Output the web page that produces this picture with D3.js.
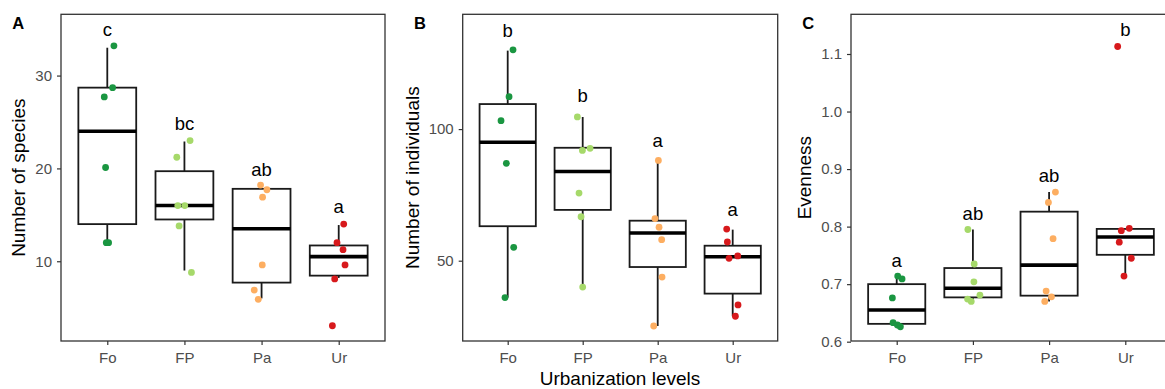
<!DOCTYPE html>
<html>
<head>
    <title>Urbanization boxplots</title>
    <script src="https://d3js.org/d3.v7.min.js"></script>
    <style>
        body { margin: 0; background: #fff; }
        svg { display: block; font-family: "Liberation Sans", Arial, sans-serif; }
    </style>
</head>
<body>
    <svg id="chart" width="1165" height="389"></svg>

    <script>
        // categories + colours
        const groups = ["Fo", "FP", "Pa", "Ur"];
        const groupColors = ["#1a9641", "#a6d96a", "#fdae61", "#d7191c"];

        // A - number of species
        const speciesPoints = [
            [33.2, 28.7, 27.7, 20.1, 12.0, 12.0],
            [23.0, 21.2, 16.0, 16.0, 13.8, 8.8],
            [18.2, 17.7, 16.9, 9.6, 6.9, 5.9],
            [14.0, 12.0, 11.25, 9.6, 8.1, 3.05]
        ];
        const speciesJitter = [
            [0.086, 0.069, -0.039, -0.022, -0.013, 0.017],
            [0.073, -0.099, -0.086, 0.004, -0.069, 0.091],
            [-0.013, 0.069, 0.013, 0.009, -0.095, -0.043],
            [0.065, -0.022, 0.056, 0.082, -0.052, -0.082]
        ];
        // [lower whisker, q1, median, q3, upper whisker]
        const speciesBoxes = [
            [12.0, 14.0, 24.0, 28.7, 33.0],
            [9.0, 14.5, 16.0, 19.7, 22.9],
            [6.0, 7.7, 13.5, 17.8, 17.8],
            [8.2, 8.45, 10.5, 11.7, 13.9]
        ];
        const speciesLetters = ["c", "bc", "ab", "a"];
        const speciesLetterY = [34.3, 24.15, 19.2, 15.24];
        const speciesTicks = [10, 20, 30];

        // B - number of individuals
        const individualsPoints = [
            [130.1, 112.3, 103.2, 87.0, 55.1, 36.0],
            [104.6, 91.9, 92.7, 75.7, 66.7, 40.0],
            [88.1, 66.0, 62.7, 58.0, 43.8, 25.2],
            [62.0, 57.1, 50.9, 51.8, 33.2, 28.9]
        ];
        const individualsJitter = [
            [0.071, 0.018, -0.089, -0.018, 0.08, -0.036],
            [-0.071, -0.004, 0.098, -0.049, -0.022, 0],
            [0.009, -0.036, 0.018, 0.053, 0.058, -0.053],
            [-0.08, -0.071, -0.049, 0.067, 0.071, 0.036]
        ];
        const individualsBoxes = [
            [36.0, 63.1, 95.0, 109.5, 129.8],
            [40.0, 69.3, 83.9, 92.9, 104.6],
            [25.2, 47.6, 60.5, 65.2, 88.1],
            [28.9, 37.5, 51.5, 55.7, 61.8]
        ];
        const individualsLetters = ["b", "b", "a", "a"];
        const individualsLetterY = [135.1, 110.2, 93.2, 67.1];
        const individualsTicks = [50, 100];

        // C - evenness
        const evennessPoints = [
            [0.714, 0.709, 0.676, 0.633, 0.629, 0.626],
            [0.795, 0.735, 0.704, 0.681, 0.674, 0.670],
            [0.860, 0.842, 0.779, 0.688, 0.678, 0.670],
            [1.113, 0.797, 0.793, 0.773, 0.745, 0.714]
        ];
        const evennessJitter = [
            [0.013, 0.07, -0.057, -0.048, 0.009, 0.048],
            [-0.066, 0.017, 0.013, 0.092, -0.07, -0.022],
            [0.083, -0.009, 0.052, -0.039, 0.031, -0.057],
            [-0.1, 0.052, -0.052, -0.079, 0.079, -0.017]
        ];
        const evennessBoxes = [
            [0.626, 0.631, 0.655, 0.700, 0.714],
            [0.670, 0.677, 0.693, 0.728, 0.795],
            [0.670, 0.680, 0.733, 0.826, 0.860],
            [0.714, 0.751, 0.782, 0.796, 0.796]
        ];
        const evennessLetters = ["a", "ab", "ab", "b"];
        const evennessLetterY = [0.730, 0.812, 0.878, 1.132];
        const evennessTicks = [0.6, 0.7, 0.8, 0.9, 1.0, 1.1];

        const svg = d3.select("svg#chart");
        const plotTop = 14.3, plotBottom = 341;
        const ink = "#1a1a1a";

        const panels = [
            { tag: "A", left: 61, right: 385, domain: [1.41, 36.6], title: "Number of species", titleX: 24.5,
              points: speciesPoints, jitter: speciesJitter, boxes: speciesBoxes,
              letters: speciesLetters, letterY: speciesLetterY, ticks: speciesTicks, fmt: d3.format("d") },
            { tag: "B", left: 462.7, right: 777.7, domain: [19.5, 143.6], title: "Number of individuals", titleX: 419,
              points: individualsPoints, jitter: individualsJitter, boxes: individualsBoxes,
              letters: individualsLetters, letterY: individualsLetterY, ticks: individualsTicks, fmt: d3.format("d") },
            { tag: "C", left: 851, right: 1171, domain: [0.6012, 1.169], title: "Evenness", titleX: 811,
              points: evennessPoints, jitter: evennessJitter, boxes: evennessBoxes,
              letters: evennessLetters, letterY: evennessLetterY, ticks: evennessTicks, fmt: d3.format(".1f") }
        ];

        panels.forEach(drawPanel);

        // shared x title
        svg.append("text")
            .attr("x", 620)
            .attr("y", 385)
            .attr("text-anchor", "middle")
            .style("font-size", "19px")
            .style("fill", "#000")
            .text("Urbanization levels");

        function drawPanel(p) {
            // continuous x like ggplot discrete: 1..4 with 0.6 padding
            const x = d3.scaleLinear().domain([0.4, 4.6]).range([p.left, p.right]);
            const y = d3.scaleLinear().domain(p.domain).range([plotBottom, plotTop]);
            const g = svg.append("g");
            const halfBox = 0.375;

            // whiskers
            g.selectAll(".whisker-hi")
                .data(p.boxes)
                .join("line")
                .attr("x1", (d, i) => x(i + 1)).attr("x2", (d, i) => x(i + 1))
                .attr("y1", d => y(d[3])).attr("y2", d => y(d[4]))
                .attr("stroke", ink).attr("stroke-width", 1.8);
            g.selectAll(".whisker-lo")
                .data(p.boxes)
                .join("line")
                .attr("x1", (d, i) => x(i + 1)).attr("x2", (d, i) => x(i + 1))
                .attr("y1", d => y(d[1])).attr("y2", d => y(d[0]))
                .attr("stroke", ink).attr("stroke-width", 1.8);

            // boxes
            g.selectAll(".box")
                .data(p.boxes)
                .join("rect")
                .attr("x", (d, i) => x(i + 1 - halfBox))
                .attr("width", (d, i) => x(i + 1 + halfBox) - x(i + 1 - halfBox))
                .attr("y", d => y(d[3]))
                .attr("height", d => y(d[1]) - y(d[3]))
                .attr("fill", "#fff")
                .attr("stroke", ink).attr("stroke-width", 1.8);

            // medians
            g.selectAll(".median")
                .data(p.boxes)
                .join("line")
                .attr("x1", (d, i) => x(i + 1 - halfBox)).attr("x2", (d, i) => x(i + 1 + halfBox))
                .attr("y1", d => y(d[2])).attr("y2", d => y(d[2]))
                .attr("stroke", "#000").attr("stroke-width", 3.6);

            // jittered points
            const pts = p.points.flatMap((vals, gi) => vals.map((v, j) => ({ g: gi, v: v, off: p.jitter[gi][j] })));
            g.selectAll(".pt")
                .data(pts)
                .join("circle")
                .attr("cx", d => x(d.g + 1 + d.off))
                .attr("cy", d => y(d.v))
                .attr("r", 3.4)
                .attr("fill", d => groupColors[d.g]);

            // significance letters
            g.selectAll(".letter")
                .data(p.letters)
                .join("text")
                .attr("x", (d, i) => x(i + 1))
                .attr("y", (d, i) => y(p.letterY[i]))
                .attr("text-anchor", "middle")
                .style("font-size", "18.5px")
                .style("fill", "#000")
                .text(d => d);

            // frame
            g.append("rect")
                .attr("x", p.left).attr("y", plotTop)
                .attr("width", p.right - p.left).attr("height", plotBottom - plotTop)
                .attr("fill", "none")
                .attr("stroke", "#333").attr("stroke-width", 1.3);

            // axes
            const yAxis = g.append("g")
                .attr("transform", "translate(" + p.left + ",0)")
                .call(d3.axisLeft(y).tickValues(p.ticks).tickFormat(p.fmt).tickSize(4).tickPadding(5));
            const xAxis = g.append("g")
                .attr("transform", "translate(0," + plotBottom + ")")
                .call(d3.axisBottom(x).tickValues([1, 2, 3, 4]).tickFormat(d => groups[d - 1]).tickSize(4).tickPadding(7));
            [yAxis, xAxis].forEach(a => {
                a.select(".domain").remove();
                a.selectAll(".tick line").attr("stroke", "#333").attr("stroke-width", 1.2);
                a.selectAll(".tick text")
                    .style("font-size", "15px")
                    .style("font-family", "\"Liberation Sans\", Arial, sans-serif")
                    .attr("fill", "#4d4d4d");
            });

            // y title
            g.append("text")
                .attr("transform", "translate(" + p.titleX + "," + ((plotTop + plotBottom) / 2) + ") rotate(-90)")
                .attr("text-anchor", "middle")
                .style("font-size", "19px")
                .style("fill", "#000")
                .text(p.title);

            // panel tag
            g.append("text")
                .attr("x", p.left - 48.7)
                .attr("y", 29.3)
                .style("font-size", "16.5px")
                .style("font-weight", "bold")
                .style("fill", "#000")
                .text(p.tag);
        }
    </script>
</body>
</html>
